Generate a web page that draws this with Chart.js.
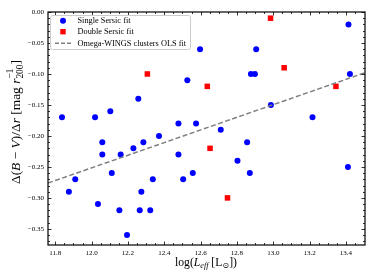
<!DOCTYPE html>
<html>
<head>
<meta charset="utf-8">
<script src="https://cdn.jsdelivr.net/npm/chart.js@4.4.0/dist/chart.umd.min.js"></script>
<style>
  html, body { margin: 0; padding: 0; background: #fff; }
  #wrap { width: 374px; height: 280px; }
</style>
</head>
<body>
<div id="wrap"><canvas id="chart" width="374" height="280"></canvas></div>
<script>
// values
const singleX = [11.837, 12.019, 12.103, 12.257, 12.527, 12.478, 12.371, 13.414, 12.597, 12.906,
  12.877, 12.899, 13.422, 12.987, 13.216, 12.575, 12.711, 12.059, 12.059, 12.160,
  12.230, 12.285, 12.478, 12.111, 11.910, 11.875, 12.337, 12.504, 12.274, 12.035,
  12.153, 12.265, 12.323, 12.195, 12.856, 12.803, 12.871, 12.557, 13.411];
const singleY = [-0.17, -0.17, -0.16, -0.14, -0.11, -0.18, -0.20, -0.02, -0.06, -0.06,
  -0.10, -0.10, -0.10, -0.15, -0.17, -0.18, -0.19, -0.21, -0.23, -0.23,
  -0.22, -0.21, -0.23, -0.26, -0.27, -0.29, -0.27, -0.27, -0.29, -0.31,
  -0.32, -0.32, -0.32, -0.36, -0.21, -0.24, -0.26, -0.26, -0.25];

const doubleX = [12.307, 12.985, 13.060, 12.637, 13.345, 12.652, 12.748];
const doubleY = [-0.10, -0.01, -0.09, -0.12, -0.12, -0.22, -0.30];

const fitX = [11.76, 13.505];
const fitY = [-0.276, -0.098];

const xTicks = [11.8, 12.0, 12.2, 12.4, 12.6, 12.8, 13.0, 13.2, 13.4];
const yTicks = [0, -0.05, -0.10, -0.15, -0.20, -0.25, -0.30, -0.35];

const labels = ['Single Sersic fit', 'Double Sersic fit', 'Omega-WINGS clusters OLS fit'];

const SERIF = '"Liberation Serif", "DejaVu Serif", serif';

function toPoints(xs, ys) {
  return xs.map((x, i) => ({ x: x, y: ys[i] }));
}

// draw a run of text pieces (normal / italic / sub / sup) starting at x
function drawRuns(ctx, runs, x, y, measureOnly) {
  let cx = x;
  runs.forEach(r => {
    const size = r.size || 10;
    ctx.font = (r.italic ? 'italic ' : '') + size + 'px ' + SERIF;
    const w = ctx.measureText(r.t).width;
    if (!measureOnly) ctx.fillText(r.t, cx, y + (r.dy || 0));
    if (!r.noAdvance) cx += w;
  });
  return cx - x;
}

// draw runs centred on (cx, cy baseline), scaled so they span `target` px
function drawLabel(ctx, runs, cx, cy, target, angle) {
  const w = drawRuns(ctx, runs, 0, 0, true);
  const s = target / w;
  ctx.save();
  ctx.translate(cx, cy);
  ctx.rotate(angle);
  ctx.scale(s, s);
  drawRuns(ctx, runs, -w / 2, 0, false);
  ctx.restore();
}

const decorPlugin = {
  id: 'decor',
  afterDraw(chart) {
    const ctx = chart.ctx;
    const a = chart.chartArea;
    const xs = chart.scales.x;
    const ys = chart.scales.y;
    ctx.save();

    // inward ticks on all sides
    ctx.strokeStyle = '#000';
    ctx.lineWidth = 0.8;
    const tick = (px, py, dx, dy) => {
      ctx.beginPath();
      ctx.moveTo(px, py);
      ctx.lineTo(px + dx, py + dy);
      ctx.stroke();
    };
    for (let v = 11.8; v <= 13.5; v += 0.05) {
      const p = Math.round(xs.getPixelForValue(v)) + 0.5;
      if (p < a.left || p > a.right) continue;
      const major = xTicks.some(t => Math.abs(t - v) < 1e-6);
      const len = major ? 3.5 : 2;
      tick(p, a.bottom, 0, -len);
      tick(p, a.top, 0, len);
    }
    for (let v = 0; v >= -0.376; v -= 0.01) {
      const p = Math.round(ys.getPixelForValue(v)) + 0.5;
      if (p < a.top || p > a.bottom) continue;
      const major = yTicks.some(t => Math.abs(t - v) < 1e-6);
      const len = major ? 3.5 : 2;
      tick(a.left, p, len, 0);
      tick(a.right, p, -len, 0);
    }

    // frame
    ctx.lineWidth = 1.2;
    ctx.strokeRect(a.left, a.top, a.right - a.left, a.bottom - a.top);

    // legend
    const lx = 50, ly = 15, lw = 140, lh = 34;
    ctx.fillStyle = 'rgba(255,255,255,0.85)';
    ctx.strokeStyle = '#cccccc';
    ctx.lineWidth = 1;
    ctx.beginPath();
    ctx.roundRect(lx + 0.5, ly + 0.5, lw, lh, 2);
    ctx.fill();
    ctx.stroke();

    const rowY = [20.7, 31.7, 43.2];
    ctx.fillStyle = '#0000ff';
    ctx.beginPath();
    ctx.arc(63, rowY[0], 3, 0, Math.PI * 2);
    ctx.fill();
    ctx.fillStyle = '#ff0000';
    ctx.fillRect(60.3, rowY[1] - 2.7, 5.4, 5.4);
    ctx.strokeStyle = '#808080';
    ctx.lineWidth = 1.4;
    ctx.setLineDash([4, 2]);
    ctx.beginPath();
    ctx.moveTo(55, rowY[2]);
    ctx.lineTo(72, rowY[2]);
    ctx.stroke();
    ctx.setLineDash([]);

    ctx.fillStyle = '#000';
    ctx.textAlign = 'left';
    ctx.textBaseline = 'middle';
    ctx.font = '8.3px ' + SERIF;
    labels.forEach((t, i) => ctx.fillText(t, 77.5, rowY[i] + 0.5));

    // axis labels
    ctx.textBaseline = 'alphabetic';
    const xRuns = [
      { t: 'log(' },
      { t: 'L', italic: true },
      { t: 'eff', italic: true, size: 7, dy: 2 },
      { t: ' [L' },
      { t: '\u2299', size: 7, dy: 2 },
      { t: '])' }
    ];
    drawLabel(ctx, xRuns, 206, 266, 62, 0);

    const yRuns = [
      { t: '\u0394(' },
      { t: 'B', italic: true },
      { t: ' \u2212 ' },
      { t: 'V', italic: true },
      { t: ')/\u0394' },
      { t: 'r', italic: true },
      { t: ' [mag ' },
      { t: 'r', italic: true },
      { t: '\u22121', size: 7, dy: -4.5, noAdvance: true },
      { t: '200', size: 7, dy: 2.5 },
      { t: ']' }
    ];
    drawLabel(ctx, yRuns, 19.5, 122, 124, -Math.PI / 2);

    ctx.restore();
  }
};

new Chart(document.getElementById('chart'), {
  type: 'scatter',
  data: {
    datasets: [
      {
        label: labels[2],
        type: 'line',
        data: toPoints(fitX, fitY),
        borderColor: '#808080',
        borderWidth: 1.5,
        borderDash: [5, 2.5],
        pointRadius: 0,
        fill: false,
        order: 0
      },
      {
        label: labels[1],
        data: toPoints(doubleX, doubleY),
        pointStyle: 'rect',
        pointRadius: 3.9,
        backgroundColor: '#ff0000',
        borderWidth: 0,
        order: 1
      },
      {
        label: labels[0],
        data: toPoints(singleX, singleY),
        pointStyle: 'circle',
        pointRadius: 3,
        backgroundColor: '#0000ff',
        borderWidth: 0,
        order: 2
      }
    ]
  },
  options: {
    responsive: false,
    animation: false,
    layout: { padding: { top: 12, right: 9, left: 0, bottom: 0 } },
    plugins: {
      legend: { display: false },
      tooltip: { enabled: false }
    },
    scales: {
      x: {
        type: 'linear',
        min: 11.76,
        max: 13.505,
        afterBuildTicks: s => { s.ticks = xTicks.map(v => ({ value: v })); },
        afterFit: s => { s.height = 35; },
        grid: { display: false, drawTicks: false },
        border: { display: false },
        ticks: {
          color: '#000',
          padding: 4,
          maxRotation: 0,
          autoSkip: false,
          font: { family: SERIF, size: 7 },
          callback: v => v.toFixed(1)
        }
      },
      y: {
        type: 'linear',
        min: -0.376,
        max: 0,
        afterBuildTicks: s => { s.ticks = yTicks.map(v => ({ value: v })); },
        afterFit: s => { s.width = 48; },
        grid: { display: false, drawTicks: false },
        border: { display: false },
        ticks: {
          color: '#000',
          padding: 4,
          autoSkip: false,
          font: { family: SERIF, size: 7 },
          callback: v => (v < -1e-9 ? '\u2212' : '') + Math.abs(v).toFixed(2)
        }
      }
    }
  },
  plugins: [decorPlugin]
});
</script>
</body>
</html>
